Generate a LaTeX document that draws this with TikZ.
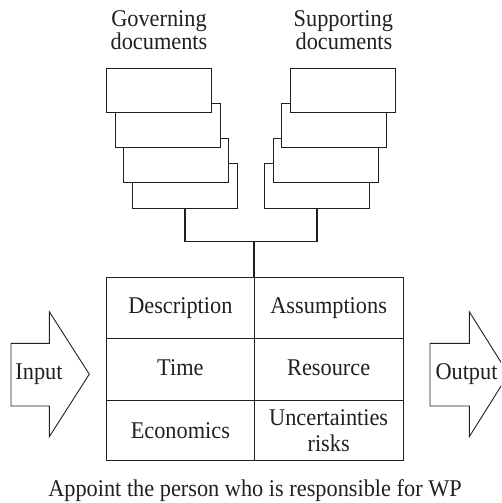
\documentclass[tikz,border=0pt]{standalone}
\usepackage{fontspec}
\setmainfont{Liberation Serif}[FakeStretch=0.93]
\definecolor{ink}{HTML}{231F20}
\begin{document}
\begin{tikzpicture}[x=1pt,y=-1pt,
  doc/.style={draw=ink, fill=white, line width=0.9pt, inner sep=0pt, outer sep=0pt, minimum width=105pt, minimum height=44.5pt},
  cellbox/.style={draw=ink, line width=0.9pt, inner sep=0pt, outer sep=0pt, text=ink, font=\fontsize{24}{25.7}\selectfont, align=center},
  onel/.style={text height=16.5pt, text depth=5pt},
  lowl/.style={text height=21pt, text depth=5pt},
  lbl/.style={text=ink, font=\fontsize{24}{25.7}\selectfont, inner sep=0pt, anchor=base},
  conn/.style={draw=ink, line width=1.5pt},
  arrowshape/.style={draw=ink, line width=0.9pt, line join=miter}
]
\clip (0,0) rectangle (501,503);
% titles
\node[lbl] (gov1) at (159,26.9) {Governing};
\node[lbl] (gov2) at (159,49.6) {documents};
\node[lbl] (sup1) at (343.3,26.9) {Supporting};
\node[lbl] (sup2) at (344,49.6) {documents};
% left stack (back to front)
\node[doc] (L4) at (185,185.8) {};
\node[doc] (L3) at (176.35,160.2) {};
\node[doc] (L2) at (168.35,125.2) {};
\node[doc] (L1) at (159.2,90.3) {};
% right stack (back to front)
\node[doc] (R4) at (316.8,185.8) {};
\node[doc] (R3) at (325.5,160.2) {};
\node[doc] (R2) at (333.85,125.2) {};
\node[doc] (R1) at (342.85,90.3) {};
% table cells
\node[cellbox,onel,minimum width=147.3pt,minimum height=61pt] (c11) at (180.35,308.2) {Description};
\node[cellbox,onel,minimum width=149.3pt,minimum height=61pt] (c12) at (328.65,308.2) {Assumptions};
\node[cellbox,onel,minimum width=147.3pt,minimum height=62pt] (c21) at (180.35,369.7) {Time};
\node[cellbox,onel,minimum width=149.3pt,minimum height=62pt] (c22) at (328.65,369.7) {Resource};
\node[cellbox,lowl,minimum width=147.3pt,minimum height=59.3pt] (c31) at (180.35,430.35) {Economics};
\node[cellbox,minimum width=149.3pt,minimum height=59.3pt] (c32) at (328.65,430.35) {Uncertainties\\risks};
% connectors
\coordinate (j) at (254,241.7);
\draw[conn] (L4.south) |- (j) -| (R4.south);
\draw[conn] (j) -- (c11.north east);
% input / output arrows
\draw[arrowshape] (11,343.3) -- (49.3,343.3) -- (49.3,311.7) -- (89.3,374.2) -- (49.3,436.7) -- (49.3,406) -- (11,406) -- cycle;
\draw[arrowshape] (430,343.3) -- (469.3,343.3) -- (469.3,311.7) -- (508.5,374.2) -- (469.3,436.7) -- (469.3,406) -- (430,406) -- cycle;
\node[lbl] (inp) at (39,379) {Input};
\node[lbl] (outp) at (466.5,379) {Output};
% caption
\node[lbl] (cap) at (255,496.7) {Appoint the person who is responsible for WP};
\end{tikzpicture}
\end{document}
